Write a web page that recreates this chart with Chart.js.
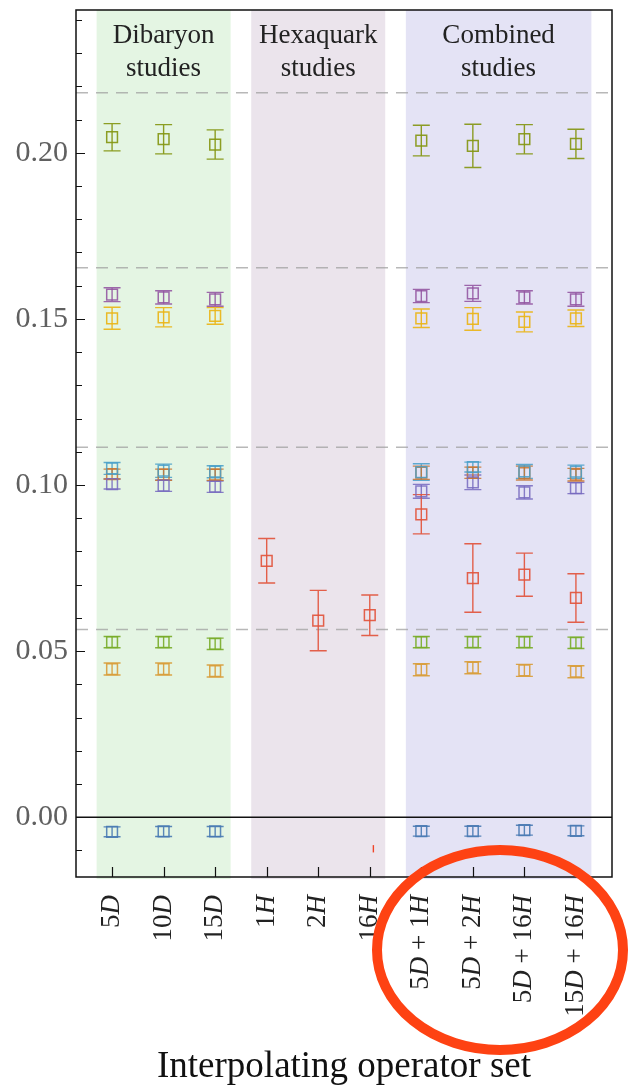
<!DOCTYPE html>
<html>
<head>
<meta charset="utf-8">
<title>Interpolating operator set</title>
<script src="https://cdn.jsdelivr.net/npm/chart.js@4.4.1/dist/chart.umd.min.js"></script>
<style>
  html, body { margin: 0; padding: 0; background: #fff; }
  canvas { display: block; }
</style>
</head>
<body>
<canvas id="chart" width="628" height="1089"></canvas>
<script>
// ---- data ----
const categories = ['5D', '10D', '15D', '1H', '2H', '16H', '5D + 1H', '5D + 2H', '5D + 16H', '15D + 16H'];

const groupNames = [['Dibaryon', 'studies'], ['Hexaquark', 'studies'], ['Combined', 'studies']];
const groupFirst = [0, 3, 6];
const groupLast = [2, 5, 9];

const thresholds = [0.2181, 0.1654, 0.1114, 0.0565];

const olive     = [0.2047, 0.2041, 0.2025, null, null, null, 0.2037, 0.2021, 0.2041, 0.2027];
const oliveErr  = [0.0041, 0.0044, 0.0044, null, null, null, 0.0046, 0.0065, 0.0044, 0.0044];
const purple    = [0.1573, 0.1565, 0.1559, null, null, null, 0.1569, 0.1577, 0.1565, 0.1559];
const purpleErr = [0.0021, 0.0020, 0.0021, null, null, null, 0.0020, 0.0024, 0.0020, 0.0021];
const gold      = [0.1502, 0.1505, 0.1509, null, null, null, 0.1502, 0.1500, 0.1491, 0.1502];
const goldErr   = [0.0033, 0.0029, 0.0025, null, null, null, 0.0028, 0.0034, 0.0030, 0.0025];
const teal      = [0.1050, 0.1043, 0.1040, null, null, null, 0.1039, 0.1054, 0.1041, 0.1040];
const tealErr   = [0.0018, 0.0020, 0.0018, null, null, null, 0.0025, 0.0015, 0.0021, 0.0020];
const brown     = [0.1033, 0.1031, 0.1031, null, null, null, 0.1037, 0.1037, 0.1036, 0.1031];
const brownErr  = [0.0015, 0.0017, 0.0017, null, null, null, 0.0020, 0.0017, 0.0021, 0.0019];
const violet    = [0.1003, 0.0998, 0.0995, null, null, null, 0.0981, 0.1008, 0.0978, 0.0991];
const violetErr = [0.0015, 0.0017, 0.0017, null, null, null, 0.0021, 0.0022, 0.0020, 0.0017];
const red       = [null, null, null, 0.0772, 0.0592, 0.0608, 0.0912, 0.0720, 0.0730, 0.0660];
const redErr    = [null, null, null, 0.0067, 0.0091, 0.0061, 0.0059, 0.0103, 0.0065, 0.0073];
const lime      = [0.0527, 0.0527, 0.0522, null, null, null, 0.0527, 0.0527, 0.0527, 0.0525];
const limeErr   = [0.0017, 0.0017, 0.0017, null, null, null, 0.0017, 0.0017, 0.0017, 0.0017];
const amber     = [0.0446, 0.0446, 0.0440, null, null, null, 0.0444, 0.0450, 0.0442, 0.0438];
const amberErr  = [0.0018, 0.0018, 0.0018, null, null, null, 0.0018, 0.0018, 0.0018, 0.0018];
const blue      = [-0.0044, -0.0043, -0.0043, null, null, null, -0.0042, -0.0042, -0.0039, -0.0041];
const blueErr   = [0.0015, 0.0015, 0.0015, null, null, null, 0.0015, 0.0015, 0.0015, 0.0015];

// stray red error bar just right of 16H, no marker
const strayX   = [5.07];
const strayY   = [-0.0095];
const strayErr = [0.0011];

// ---- styling ----
const SERIF = '"Liberation Serif", "DejaVu Serif", serif';
const bandColors = ['#e4f5e3', '#ebe4ec', '#e4e3f5'];
const BAND_PAD = 0.3;

function toPoints(values) {
    return values.map((v, i) => ({ x: i, y: v })).filter(p => p.y !== null);
}

function series(label, values, errors, color) {
    return {
        label: label,
        data: toPoints(values),
        errors: errors.filter(e => e !== null),
        borderColor: color,
        backgroundColor: 'transparent',
        pointStyle: 'rect',
        pointRadius: 7.6,
        pointBorderWidth: 1.5,
        showLine: false
    };
}

const datasets = [
    series('olive', olive, oliveErr, 'rgba(132,150,18,0.92)'),
    series('purple', purple, purpleErr, 'rgba(146,84,160,0.88)'),
    series('gold', gold, goldErr, 'rgba(234,180,22,0.92)'),
    series('violet', violet, violetErr, 'rgba(118,104,190,0.85)'),
    series('teal', teal, tealErr, 'rgba(70,158,200,0.85)'),
    series('brown', brown, brownErr, 'rgba(200,116,46,0.85)'),
    series('red', red, redErr, 'rgba(226,84,60,0.92)'),
    series('lime', lime, limeErr, 'rgba(120,172,40,0.9)'),
    series('amber', amber, amberErr, 'rgba(216,156,56,0.9)'),
    series('blue', blue, blueErr, 'rgba(70,120,178,0.88)'),
    {
        label: 'stray',
        data: strayX.map((x, i) => ({ x: x, y: strayY[i] })),
        errors: strayErr,
        noCaps: true,
        borderColor: 'rgba(240,60,30,0.95)',
        pointRadius: 0,
        showLine: false
    }
];

// bands, reference lines and error bars go under the markers
const backdrop = {
    id: 'backdrop',
    beforeDatasetsDraw(chart) {
        const { ctx, chartArea: area, scales: { x, y } } = chart;
        ctx.save();
        groupFirst.forEach((first, g) => {
            const x0 = x.getPixelForValue(first - BAND_PAD);
            const x1 = x.getPixelForValue(groupLast[g] + BAND_PAD);
            ctx.fillStyle = bandColors[g];
            ctx.fillRect(x0, area.top, x1 - x0, area.bottom - area.top + 2);
        });

        ctx.strokeStyle = 'rgba(160,160,160,0.75)';
        ctx.lineWidth = 1.5;
        ctx.setLineDash([12, 8]);
        thresholds.forEach(t => {
            const py = y.getPixelForValue(t);
            ctx.beginPath();
            ctx.moveTo(area.left, py);
            ctx.lineTo(area.right, py);
            ctx.stroke();
        });
        ctx.setLineDash([]);

        ctx.strokeStyle = '#111';
        ctx.lineWidth = 1.5;
        const zero = y.getPixelForValue(0);
        ctx.beginPath();
        ctx.moveTo(area.left, zero);
        ctx.lineTo(area.right, zero);
        ctx.stroke();

        chart.data.datasets.forEach(ds => {
            ctx.strokeStyle = ds.borderColor;
            ctx.lineWidth = 1.4;
            ds.data.forEach((p, i) => {
                const px = x.getPixelForValue(p.x);
                const top = y.getPixelForValue(p.y + ds.errors[i]);
                const bot = y.getPixelForValue(p.y - ds.errors[i]);
                ctx.beginPath();
                ctx.moveTo(px, top);
                ctx.lineTo(px, bot);
                if (!ds.noCaps) {
                    ctx.moveTo(px - 8.5, top);
                    ctx.lineTo(px + 8.5, top);
                    ctx.moveTo(px - 8.5, bot);
                    ctx.lineTo(px + 8.5, bot);
                }
                ctx.stroke();
            });
        });
        ctx.restore();
    }
};

// frame, inward ticks, x labels with italic letters, group headers, annotation ring
const overlay = {
    id: 'overlay',
    afterDraw(chart) {
        const { ctx, chartArea: area, scales: { x, y } } = chart;
        ctx.save();

        ctx.strokeStyle = '#111';
        ctx.lineWidth = 1.5;
        ctx.strokeRect(area.left, area.top, area.right - area.left, area.bottom - area.top);

        ctx.lineWidth = 1.2;
        ctx.beginPath();
        y.ticks.forEach(t => {
            const py = Math.round(y.getPixelForValue(t.value)) + 0.5;
            const len = (Math.round(t.value * 100) % 5 === 0) ? 9 : 6;
            ctx.moveTo(area.left, py);
            ctx.lineTo(area.left + len, py);
        });
        categories.forEach((c, i) => {
            const px = Math.round(x.getPixelForValue(i)) + 0.5;
            ctx.moveTo(px, area.bottom);
            ctx.lineTo(px, area.bottom - 10);
        });
        ctx.stroke();

        ctx.fillStyle = '#222';
        ctx.textBaseline = 'middle';
        ctx.textAlign = 'left';
        categories.forEach((label, i) => {
            const parts = label.split(/([DH])/).filter(s => s.length);
            const fonts = parts.map(p => (p === 'D' || p === 'H') ? `italic 27px ${SERIF}` : `27px ${SERIF}`);
            const widths = parts.map((p, k) => { ctx.font = fonts[k]; return ctx.measureText(p).width; });
            const total = widths.reduce((a, b) => a + b, 0);
            ctx.save();
            ctx.translate(x.getPixelForValue(i), area.bottom + 18);
            ctx.rotate(-Math.PI / 2);
            let pos = -total;
            parts.forEach((p, k) => {
                ctx.font = fonts[k];
                ctx.fillText(p, pos, 0);
                pos += widths[k];
            });
            ctx.restore();
        });

        ctx.textAlign = 'center';
        ctx.textBaseline = 'alphabetic';
        ctx.font = `27px ${SERIF}`;
        groupNames.forEach((lines, g) => {
            const cx = (x.getPixelForValue(groupFirst[g]) + x.getPixelForValue(groupLast[g])) / 2;
            lines.forEach((line, k) => ctx.fillText(line, cx, area.top + 33 + k * 33));
        });

        ctx.strokeStyle = '#fe4213';
        ctx.lineWidth = 10;
        ctx.beginPath();
        ctx.ellipse(500, 950, 123, 100, 0, 0, Math.PI * 2);
        ctx.stroke();

        ctx.restore();
    }
};

new Chart(document.getElementById('chart'), {
    type: 'scatter',
    data: { datasets: datasets },
    options: {
        responsive: false,
        animation: false,
        events: [],
        layout: { padding: { top: 10, right: 16, left: 0, bottom: 0 } },
        plugins: {
            legend: { display: false },
            tooltip: { enabled: false }
        },
        scales: {
            x: {
                type: 'linear',
                min: -0.7,
                max: 9.7,
                grid: { display: false, drawTicks: false },
                border: { display: false },
                ticks: { display: false },
                title: {
                    display: true,
                    text: 'Interpolating operator set',
                    color: '#111',
                    font: { family: SERIF, size: 37 },
                    padding: { top: 0, bottom: 0 }
                },
                afterFit: (scale) => { scale.height = 212; }
            },
            y: {
                min: -0.018,
                max: 0.243,
                grid: { display: false, drawTicks: false },
                border: { display: false },
                ticks: {
                    stepSize: 0.01,
                    includeBounds: false,
                    autoSkip: false,
                    padding: 8,
                    color: '#606060',
                    font: { family: SERIF, size: 30 },
                    callback: (v) => (Math.round(v * 100) % 5 === 0) ? v.toFixed(2) : ''
                },
                afterFit: (scale) => {
                    scale.width = 76;
                    scale.paddingTop = 0;
                    scale.paddingBottom = 0;
                }
            }
        }
    },
    plugins: [backdrop, overlay]
});
</script>
</body>
</html>
